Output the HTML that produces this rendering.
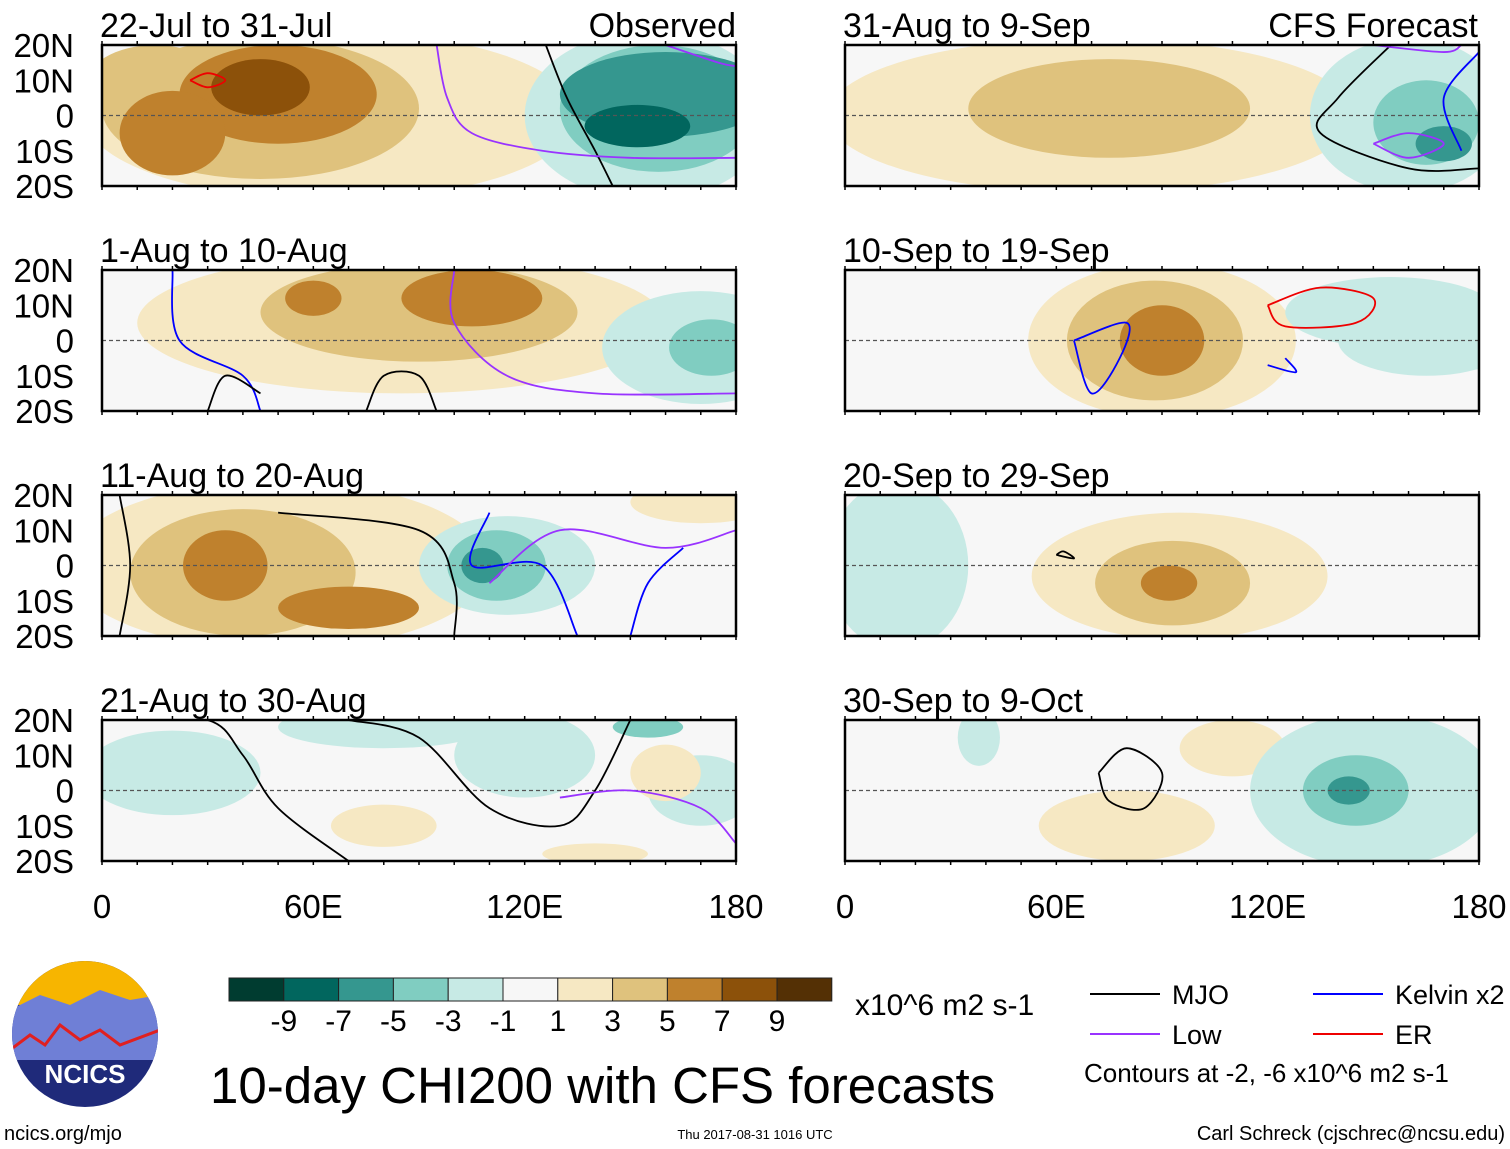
<!DOCTYPE html>
<html><head><meta charset="utf-8"><style>
body{margin:0;background:#fff}
svg{display:block;font-family:"Liberation Sans",sans-serif}
</style></head><body>
<svg id="c" width="1510" height="1149" viewBox="0 0 1510 1149"></svg>
<script>
const colors=["#003c30","#01665e","#35978f","#80cdc1","#c7eae5","#f7f7f7","#f6e8c3","#dfc27d","#bf812d","#8c510a","#543005"];
const binEdges=[-9,-7,-5,-3,-1,1,3,5,7,9];
const titles=["22-Jul to 31-Jul","1-Aug to 10-Aug","11-Aug to 20-Aug","21-Aug to 30-Aug","31-Aug to 9-Sep","10-Sep to 19-Sep","20-Sep to 29-Sep","30-Sep to 9-Oct"];
const latTicks=["20N","10N","0","10S","20S"];
const lonTicks=["0","60E","120E","180"];
// anomaly blobs: [lon, lat, lonRadius, latRadius, value]
const blobs0=[[65,0,70,24,2],[45,2,45,20,4],[15,8,20,12,4],[50,6,28,14,6],[20,-5,15,12,6],[45,8,14,8,8],[155,0,35,24,-2],[158,2,28,18,-4],[160,6,30,12,-6],[152,-3,15,6,-8]];
const blobs1=[[85,5,75,20,2],[90,8,45,14,4],[105,12,20,8,6],[60,12,8,5,6],[170,-2,28,16,-2],[173,-2,12,8,-4]];
const blobs2=[[50,0,60,24,2],[40,-2,32,18,4],[35,0,12,10,6],[70,-12,20,6,6],[115,0,25,14,-2],[112,0,14,10,-4],[108,0,6,5,-6],[170,18,20,6,2]];
const blobs3=[[20,5,25,12,-2],[80,18,30,6,-2],[120,10,20,12,-2],[170,0,15,10,-2],[155,18,10,3,-4],[80,-10,15,6,2],[160,5,10,8,2],[140,-18,15,3,2]];
const blobs4=[[70,0,75,22,2],[75,2,40,14,4],[160,0,28,22,-2],[165,-2,15,12,-4],[170,-8,8,5,-6]];
const blobs5=[[90,0,38,22,2],[88,0,25,17,4],[90,0,12,10,6],[155,8,30,10,-2],[165,0,25,10,-2]];
const blobs6=[[15,0,20,24,-2],[95,-3,42,18,2],[93,-5,22,12,4],[92,-5,8,5,6]];
const blobs7=[[80,-10,25,10,2],[110,12,15,8,2],[150,0,35,22,-2],[145,0,15,10,-4],[143,0,6,4,-6],[38,15,6,8,-2]];
const allBlobs=[blobs0,blobs1,blobs2,blobs3,blobs4,blobs5,blobs6,blobs7];
// contour lines: [type, [[lon,lat],...]]
const lines0=[["mjo",[[126,20],[132,5],[140,-10],[145,-20]]],["low",[[95,20],[98,5],[105,-5],[125,-10],[150,-12],[180,-12]]],["low",[[160,20],[175,15],[180,14]]],["er",[[25,10],[30,12],[35,10],[30,8],[25,10]]]];
const lines1=[["low",[[100,20],[100,5],[115,-10],[140,-15],[180,-15]]],["kelvin",[[20,20],[22,0],[40,-10],[45,-20]]],["mjo",[[75,-20],[80,-10],[90,-10],[95,-20]]],["mjo",[[30,-20],[35,-10],[45,-15]]]];
const lines2=[["mjo",[[5,20],[8,0],[5,-20]]],["mjo",[[50,15],[90,10],[100,-5],[100,-20]]],["kelvin",[[110,15],[105,0],[125,0],[135,-20]]],["low",[[110,-5],[130,10],[160,5],[180,10]]],["kelvin",[[150,-20],[155,-5],[165,5]]]];
const lines3=[["mjo",[[5,20],[30,20],[40,10],[50,-5],[70,-20]]],["mjo",[[70,20],[90,15],[110,-5],[130,-10],[140,0],[150,20]]],["low",[[130,-2],[150,0],[170,-5],[180,-15]]],["low",[[150,20],[180,20]]]];
const lines4=[["mjo",[[155,20],[140,5],[135,-5],[160,-15],[180,-15]]],["kelvin",[[180,18],[170,5],[175,-10]]],["low",[[150,-8],[160,-5],[170,-8],[160,-12],[150,-8]]],["low",[[150,20],[170,18],[175,20]]]];
const lines5=[["er",[[120,10],[135,15],[150,12],[145,5],[125,4],[120,10]]],["kelvin",[[65,0],[70,-15],[78,-5],[80,5],[65,0]]],["kelvin",[[120,-7],[128,-9],[125,-5]]]];
const lines6=[["mjo",[[60,3],[65,2],[62,4],[60,3]]]];
const lines7=[["mjo",[[72,5],[80,12],[90,5],[85,-5],[75,-3],[72,5]]]];
const allLines=[lines0,lines1,lines2,lines3,lines4,lines5,lines6,lines7];
const lineColor={mjo:"#000",low:"#9933ff",kelvin:"#0000ff",er:"#ee0000"};

const svg=document.getElementById('c');
const NS="http://www.w3.org/2000/svg";
function mk(tag,attrs,parent){const e=document.createElementNS(NS,tag);for(const k in attrs)e.setAttribute(k,attrs[k]);(parent||svg).appendChild(e);return e;}
function colorFor(v){let i=0;while(i<binEdges.length&&v>binEdges[i])i++;return colors[i];}
function smooth(pts){
  if(pts.length<3)return 'M'+pts.map(p=>p.join(',')).join(' L');
  let d='M'+pts[0][0]+','+pts[0][1];
  for(let i=0;i<pts.length-1;i++){
    const p0=pts[Math.max(i-1,0)],p1=pts[i],p2=pts[i+1],p3=pts[Math.min(i+2,pts.length-1)];
    const c1=[p1[0]+(p2[0]-p0[0])/6,p1[1]+(p2[1]-p0[1])/6],c2=[p2[0]-(p3[0]-p1[0])/6,p2[1]-(p3[1]-p1[1])/6];
    d+=' C'+c1.join(',')+' '+c2.join(',')+' '+p2.join(',');
  }
  return d;
}
const PW=634,PH=141;
const panelX=[102,102,102,102,845,845,845,845];
const panelY=[45,270,495,720,45,270,495,720];

for(let p=0;p<8;p++){
  const x0=panelX[p],y0=panelY[p];
  const X=lon=>x0+lon/180*PW, Y=lat=>y0+(20-lat)/40*PH;
  const g=mk('g',{},svg);
  
  
  const cp=mk('clipPath',{id:'cp'+p},g);
  mk('rect',{x:x0,y:y0,width:PW,height:PH},cp);
  mk('rect',{x:x0,y:y0,width:PW,height:PH,fill:colors[5]},g);
  const inner=mk('g',{'clip-path':'url(#cp'+p+')'},g);
  allBlobs[p].forEach(b=>{
    const e=mk('ellipse',{cx:X(b[0]),cy:Y(b[1]),rx:b[2]/180*PW,ry:b[3]/40*PH,fill:colorFor(b[4])},inner);
    
    
  });
  mk('line',{x1:x0,x2:x0+PW,y1:Y(0),y2:Y(0),stroke:'#555','stroke-dasharray':'4,3','stroke-width':1.2},inner);
  allLines[p].forEach(l=>{
    const pl=mk('path',{d:smooth(l[1].map(q=>[X(q[0]),Y(q[1])])),fill:'none',stroke:lineColor[l[0]],'stroke-width':1.8},inner);
    
    
  });
  mk('rect',{x:x0,y:y0,width:PW,height:PH,fill:'none',stroke:'#000','stroke-width':2.5},g);
  for(let lon=0;lon<=180;lon+=10){
    mk('line',{x1:X(lon),x2:X(lon),y1:y0-4,y2:y0,stroke:'#000','stroke-width':1.5},g);
    mk('line',{x1:X(lon),x2:X(lon),y1:y0+PH,y2:y0+PH+4,stroke:'#000','stroke-width':1.5},g);
  }
  const t=mk('text',{x:x0-2,y:y0-8,'font-size':34},g);t.textContent=titles[p];
  
  
  if(p<4)latTicks.forEach((s,i)=>{
    const tt=mk('text',{x:74,y:y0+i*PH/4+12,'font-size':33,'text-anchor':'end'},g);
    tt.textContent=s;
    
    
  });
}
function txt(x,y,s,size,anchor,name){const t=mk('text',{x:x,y:y,'font-size':size,'text-anchor':anchor||'start'});t.textContent=s;return t;}
txt(736,37,"Observed",34,"end","observed-label");
txt(1478,37,"CFS Forecast",34,"end","forecast-label");
[102,845].forEach(x0=>lonTicks.forEach((s,i)=>txt(x0+i*PW/3,918,s,33,"middle","x-tick-label")));
// colorbar
for(let i=0;i<11;i++){const r=mk('rect',{x:229+i*54.8,y:978,width:54.8,height:23,fill:colors[i],stroke:'#222','stroke-width':1});}
binEdges.forEach((v,i)=>txt(229+(i+1)*54.8,1031,String(v),30,"middle","colorbar-label"));
txt(855,1015,"x10^6 m2 s-1",30,"start","units-label");
txt(210,1103,"10-day CHI200 with CFS forecasts",51,"start","chart-title");
// legend
[[1090,994,"MJO","mjo"],[1313,994,"Kelvin x2","kelvin"],[1090,1034,"Low","low"],[1313,1034,"ER","er"]].forEach(l=>{
  const ln=mk('line',{x1:l[0],x2:l[0]+70,y1:l[1],y2:l[1],stroke:lineColor[l[3]],'stroke-width':2});
  
  txt(l[0]+82,l[1]+10,l[2],27,"start","legend-entry");
});
txt(1084,1082,"Contours at -2, -6 x10^6 m2 s-1",26,"start","contour-note");
txt(4,1140,"ncics.org/mjo",20,"start","url-label");
txt(755,1139,"Thu 2017-08-31 1016 UTC",13,"middle","timestamp");
txt(1505,1140,"Carl Schreck (cjschrec@ncsu.edu)",20,"end","author-label");
// logo
const lg=mk('g',{});
const lc=mk('clipPath',{id:'lc'},lg);mk('circle',{cx:85,cy:1034,r:73},lc);
const li=mk('g',{'clip-path':'url(#lc)'},lg);
mk('rect',{x:10,y:960,width:150,height:150,fill:'#1f2a7a'},li);
mk('rect',{x:10,y:960,width:150,height:45,fill:'#f7b500'},li);
mk('path',{d:'M10 1010 L40 995 L70 1005 L100 990 L130 1000 L160 995 L160 1060 L10 1060Z',fill:'#6f7fd6'},li);
mk('path',{d:'M10 1050 L30 1035 L45 1045 L60 1025 L80 1040 L100 1030 L120 1045 L160 1030',fill:'none',stroke:'#e02020','stroke-width':3},li);
const nt=txt(85,1083,"NCICS",26,"middle","logo-text");nt.setAttribute('fill','#fff');nt.setAttribute('font-weight','bold');
</script>
</body></html>
